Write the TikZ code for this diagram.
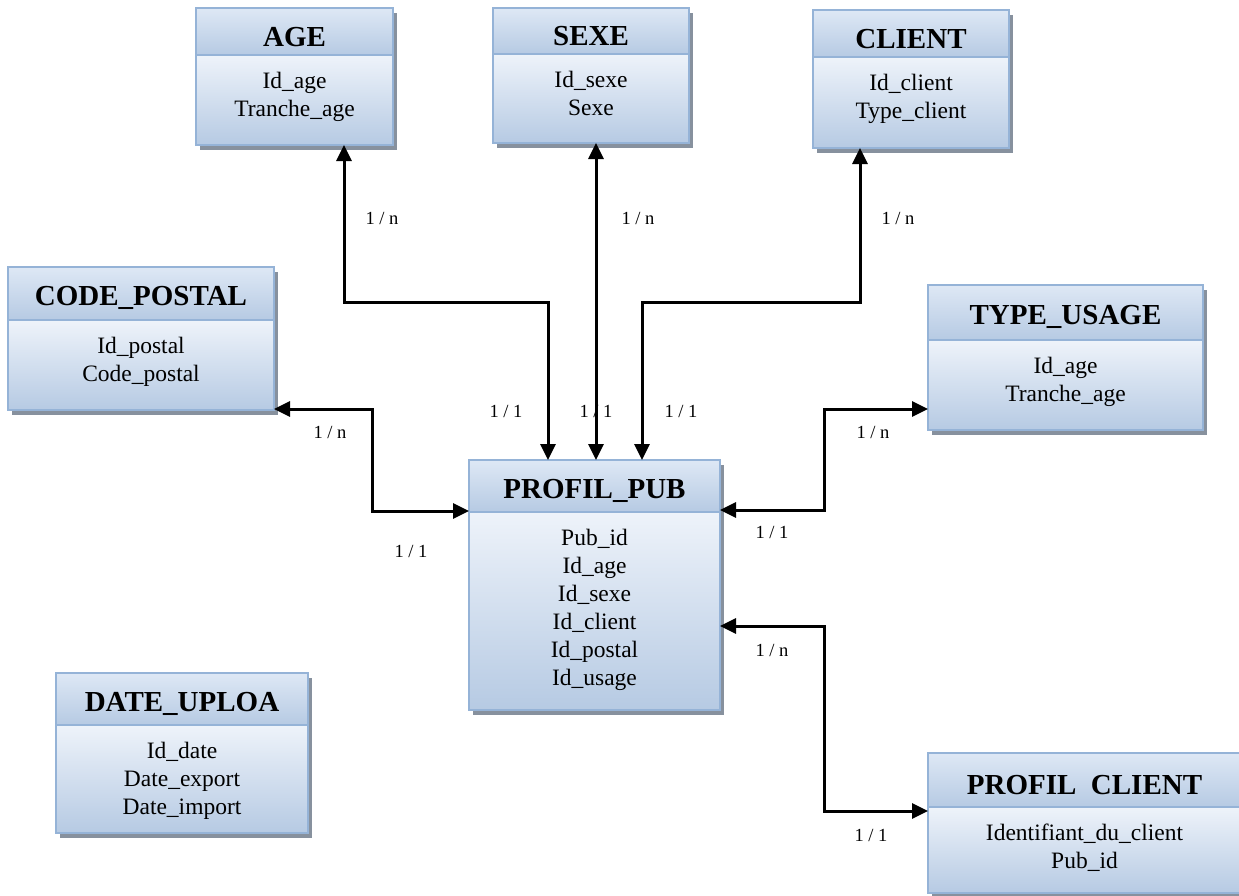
\documentclass[tikz,border=0pt]{standalone}
\usepackage{fontspec}
\setmainfont{Liberation Serif}
\usetikzlibrary{arrows.meta,calc}
\definecolor{bordc}{RGB}{149,179,215}
\definecolor{lightc}{RGB}{238,243,250}
\definecolor{darkc}{RGB}{182,202,227}
\definecolor{headtop}{RGB}{222,232,245}
\definecolor{shadc}{RGB}{135,145,158}
\tikzset{
  titlef/.style={font=\fontsize{29}{32}\selectfont\bfseries},
  bodyf/.style={font=\fontsize{23.5}{28}\selectfont},
  lbl/.style={font=\fontsize{18.5}{20}\selectfont, inner sep=0pt},
  biarrow/.style={{Triangle[length=16pt,width=15pt]}-{Triangle[length=16pt,width=15pt]}, line width=3pt},
}
% name x1 y1 x2 y2 ydiv title body titlebaseline
\newcommand\entity[9]{%
  \fill[shadc] (#2+4,#3+5) rectangle (#4+4,#5+5);
  \shade[top color=headtop,bottom color=darkc] (#2,#3) rectangle (#4,#6);
  \shade[top color=lightc,bottom color=darkc] (#2,#6) rectangle (#4,#5);
  \draw[bordc,line width=2.5pt] (#2,#3) rectangle (#4,#5) (#2,#6) -- (#4,#6);
  \node[inner sep=0pt,outer sep=0pt,minimum width={#4-#2},minimum height={#5-#3}] (#1) at ({(#2+#4)/2},{(#3+#5)/2}) {};
  \node[titlef,anchor=base,inner sep=0pt] (#1-t) at ({(#2+#4)/2},#9) {#7};
  \node[bodyf,anchor=north,align=center,inner sep=0pt] (#1-b) at ({(#2+#4)/2},{#6+14}) {#8};
}
\begin{document}
\begin{tikzpicture}[x=1pt,y=-1pt]
\useasboundingbox (0,0) rectangle (1239,895);
\entity{age}{196}{8}{393}{145}{55}{AGE}{\strut Id\_age\\\strut Tranche\_age}{46}
\entity{sexe}{493}{8}{689}{143}{54}{SEXE}{\strut Id\_sexe\\\strut Sexe}{45}
\entity{client}{813}{10}{1009}{148}{57}{CLIENT}{\strut Id\_client\\\strut Type\_client}{48}
\entity{cp}{8}{267}{274}{410}{320}{CODE\_POSTAL}{\strut Id\_postal\\\strut Code\_postal}{305}
\entity{tu}{928}{285}{1203}{430}{340}{TYPE\_USAGE}{\strut Id\_age\\\strut Tranche\_age}{324}
\entity{pub}{469}{460}{720}{710}{512}{PROFIL\_PUB}{\strut Pub\_id\\\strut Id\_age\\\strut Id\_sexe\\\strut Id\_client\\\strut Id\_postal\\\strut Id\_usage}{498}
\entity{date}{56}{673}{308}{833}{725}{DATE\_UPLOA}{\strut Id\_date\\\strut Date\_export\\\strut Date\_import}{711}
\entity{pc}{928}{753}{1241}{893}{807}{PROFIL\ \ CLIENT}{\strut Identifiant\_du\_client\\\strut Pub\_id}{794}

\coordinate (ageb) at (344,302);
\coordinate (pa) at (548,0);
\coordinate (sx) at (596,0);
\coordinate (clb) at (860,302);
\coordinate (pc2) at (642,0);
\coordinate (cpy) at (0,409);
\coordinate (cpb) at (372,511);
\coordinate (tuy) at (0,409);
\coordinate (tub) at (824,510);
\coordinate (pcy) at (0,626);
\coordinate (pcb) at (824,811);

\draw[biarrow] (age.south -| ageb) -- (ageb) -| (pub.north -| pa);
\draw[biarrow] (sexe.south -| sx) -- (pub.north -| sx);
\draw[biarrow] (client.south -| clb) -- (clb) -| (pub.north -| pc2);
\draw[biarrow] (cp.east |- cpy) -| (cpb) -- (pub.west |- cpb);
\draw[biarrow] (pub.east |- tub) -- (tub) |- (tu.west |- tuy);
\draw[biarrow] (pub.east |- pcy) -| (pcb) -- (pc.west |- pcb);

\node[lbl] (l1) at (382,218) {1 / n};
\node[lbl] (l2) at (638,218) {1 / n};
\node[lbl] (l3) at (898,218) {1 / n};
\node[lbl] (l4) at (330,432) {1 / n};
\node[lbl] (l5) at (873,432) {1 / n};
\node[lbl] (l6) at (772,650) {1 / n};
\node[lbl] (m1) at (506,411) {1 / 1};
\node[lbl] (m2) at (596,411) {1 / 1};
\node[lbl] (m3) at (681,411) {1 / 1};
\node[lbl] (m4) at (411,551) {1 / 1};
\node[lbl] (m5) at (772,532) {1 / 1};
\node[lbl] (m6) at (871,835) {1 / 1};
\end{tikzpicture}
\end{document}
